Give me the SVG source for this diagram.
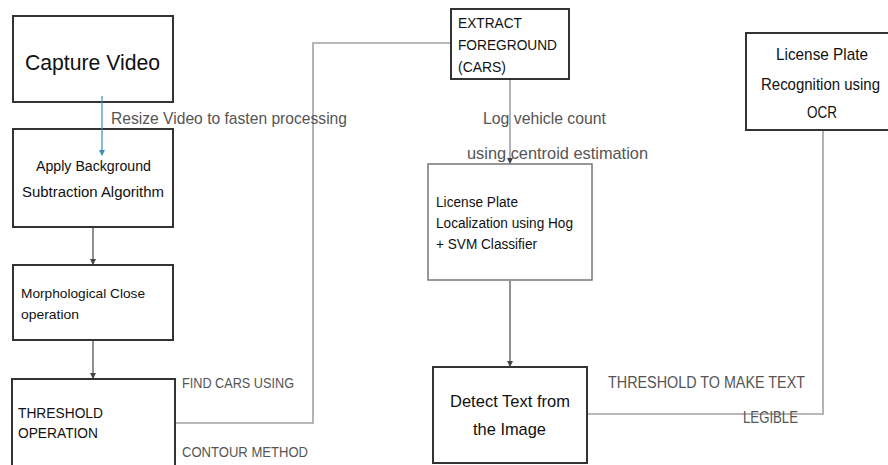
<svg xmlns="http://www.w3.org/2000/svg" width="888" height="465" viewBox="0 0 888 465">
<style>
.box{fill:#fff;stroke:#333;stroke-width:2}
.t{font-family:"Liberation Sans",Arial,sans-serif;fill:#111}
.lbl{font-family:"Liberation Sans",Arial,sans-serif;fill:#555}
.conn{fill:none;stroke:#a0a0a6;stroke-width:1.6}
.dark{fill:none;stroke:#555;stroke-width:1.3}
</style>
<defs>
<marker id="ah" markerWidth="6" markerHeight="6" refX="5" refY="3" orient="auto" markerUnits="userSpaceOnUse">
<path d="M0,0 L6,3 L0,6 Z" fill="#444"/>
</marker>
<marker id="ahb" markerWidth="6" markerHeight="6" refX="5" refY="3" orient="auto" markerUnits="userSpaceOnUse">
<path d="M0,0 L6,3 L0,6 Z" fill="#3a8fb5"/>
</marker>
</defs>
<rect width="888" height="465" fill="#fff"/>
<g id="capture-video">
<rect class="box" x="13" y="16" width="160" height="86"/>
<text class="t" x="25" y="70" font-size="22" textLength="135" lengthAdjust="spacingAndGlyphs">Capture Video</text>
</g>
<g id="background-subtraction">
<rect class="box" x="13" y="129" width="160" height="98"/>
<text class="t" x="36" y="171" font-size="14" textLength="115" lengthAdjust="spacingAndGlyphs">Apply Background</text>
<text class="t" x="22" y="197" font-size="14" textLength="142" lengthAdjust="spacingAndGlyphs">Subtraction Algorithm</text>
</g>
<g id="morphological-close">
<rect class="box" x="13" y="265" width="160" height="75"/>
<text class="t" x="21" y="298" font-size="13.5" textLength="124" lengthAdjust="spacingAndGlyphs">Morphological Close</text>
<text class="t" x="21" y="319" font-size="13.5" textLength="58" lengthAdjust="spacingAndGlyphs">operation</text>
</g>
<g id="threshold-operation">
<rect class="box" x="12" y="379" width="163" height="100"/>
<text class="t" x="18" y="418" font-size="14" textLength="85" lengthAdjust="spacingAndGlyphs">THRESHOLD</text>
<text class="t" x="18" y="438" font-size="14" textLength="80" lengthAdjust="spacingAndGlyphs">OPERATION</text>
</g>
<g id="extract-foreground">
<rect class="box" x="451" y="9" width="118" height="70"/>
<text class="t" x="458" y="28" font-size="14" textLength="64" lengthAdjust="spacingAndGlyphs">EXTRACT</text>
<text class="t" x="458" y="50" font-size="14" textLength="99" lengthAdjust="spacingAndGlyphs">FOREGROUND</text>
<text class="t" x="458" y="72" font-size="14" textLength="48" lengthAdjust="spacingAndGlyphs">(CARS)</text>
</g>
<g id="plate-localization">
<rect x="428" y="164" width="164" height="116" fill="#fff" stroke="#777" stroke-width="1.5"/>
<text class="t" x="436" y="207" font-size="14" textLength="82" lengthAdjust="spacingAndGlyphs">License Plate</text>
<text class="t" x="436" y="228" font-size="14" textLength="137" lengthAdjust="spacingAndGlyphs">Localization using Hog</text>
<text class="t" x="436" y="249" font-size="14" textLength="101" lengthAdjust="spacingAndGlyphs">+ SVM Classifier</text>
</g>
<g id="detect-text">
<rect class="box" x="433" y="367" width="154" height="96"/>
<text class="t" x="450" y="407" font-size="17" textLength="120" lengthAdjust="spacingAndGlyphs">Detect Text from</text>
<text class="t" x="473" y="435" font-size="17" textLength="73" lengthAdjust="spacingAndGlyphs">the Image</text>
</g>
<g id="plate-recognition">
<rect class="box" x="746" y="33" width="150" height="97"/>
<text class="t" x="776" y="60" font-size="17" textLength="92" lengthAdjust="spacingAndGlyphs">License Plate</text>
<text class="t" x="761" y="90" font-size="16.5" textLength="119" lengthAdjust="spacingAndGlyphs">Recognition using</text>
<text class="t" x="807" y="118" font-size="17" textLength="30" lengthAdjust="spacingAndGlyphs">OCR</text>
</g>
<g id="connectors">
<line x1="102" y1="96" x2="102" y2="155" stroke="#3a8fb5" stroke-width="1.2" marker-end="url(#ahb)"/>
<line x1="93" y1="228" x2="93" y2="264" class="dark" marker-end="url(#ah)"/>
<line x1="93" y1="341" x2="93" y2="378" class="dark" marker-end="url(#ah)"/>
<polyline points="176,423 313,423 313,43 450,43" class="conn"/>
<line x1="510" y1="80" x2="510" y2="163" class="conn" marker-end="url(#ah)"/>
<line x1="510" y1="281" x2="510" y2="366" class="dark" marker-end="url(#ah)"/>
<polyline points="588,414 823,414 823,131" class="conn"/>
</g>
<g id="labels">
<text class="lbl" x="111" y="124" font-size="17" textLength="236" lengthAdjust="spacingAndGlyphs">Resize Video to fasten processing</text>
<text class="lbl" x="182" y="388" font-size="14" textLength="112" lengthAdjust="spacingAndGlyphs">FIND CARS USING</text>
<text class="lbl" x="182" y="457" font-size="14" textLength="126" lengthAdjust="spacingAndGlyphs">CONTOUR METHOD</text>
<text class="lbl" x="483" y="124" font-size="17" textLength="123" lengthAdjust="spacingAndGlyphs">Log vehicle count</text>
<text class="lbl" x="467" y="159" font-size="17" textLength="181" lengthAdjust="spacingAndGlyphs">using centroid estimation</text>
<text class="lbl" x="608" y="388" font-size="16" textLength="197" lengthAdjust="spacingAndGlyphs">THRESHOLD TO MAKE TEXT</text>
<text class="lbl" x="743" y="423" font-size="16" textLength="55" lengthAdjust="spacingAndGlyphs">LEGIBLE</text>
</g>
</svg>
